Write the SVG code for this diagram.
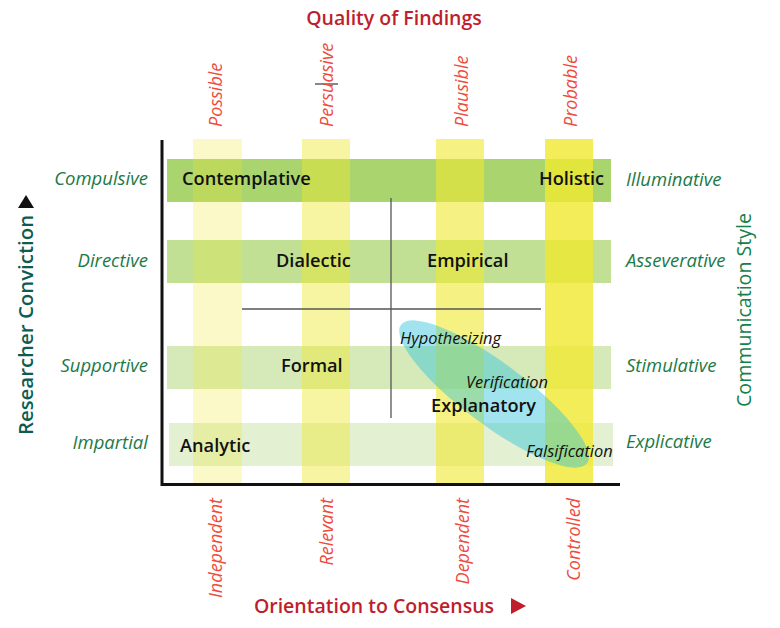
<svg xmlns="http://www.w3.org/2000/svg" width="780" height="628" viewBox="0 0 780 628">
<style>
.node{font-family:"Open Sans","Liberation Sans",sans-serif;font-weight:600;font-size:18.2px;fill:#111}
.proc{font-family:"Open Sans","Liberation Sans",sans-serif;font-style:italic;font-size:16.4px;fill:#111}
.red{font-family:"Open Sans","Liberation Sans",sans-serif;font-style:italic;font-size:18px;fill:#ef4b3c}
.grn{font-family:"Open Sans","Liberation Sans",sans-serif;font-style:italic;font-size:18.5px;fill:#1d7a47}
.title{font-family:"Open Sans","Liberation Sans",sans-serif;font-weight:600;font-size:19.5px;fill:#be1e2d}
.col{fill:#f0e830}
</style>
<rect width="780" height="628" fill="#fff"/>
<g id="bands">
<rect x="167" y="159" width="444" height="43" fill="#a9d46e"/>
<rect x="167" y="240" width="444" height="43" fill="#c1e093"/>
<rect x="167" y="346" width="444" height="43" fill="#d6e9b8"/>
<rect x="169" y="423" width="444" height="43" fill="#e3f0d2"/>
</g>
<g id="columns">
<rect class="col" x="193" y="139" width="49" height="345" opacity="0.27"/>
<rect class="col" x="302" y="139" width="48" height="345" opacity="0.45"/>
<rect class="col" x="436" y="139" width="48" height="345" opacity="0.6"/>
<rect class="col" x="545" y="139" width="48" height="345" opacity="0.8"/>
</g>
<g id="cycle">
<ellipse cx="494" cy="394" rx="116" ry="31" transform="rotate(36.7 494 394)" fill="#2ec4dc" opacity="0.45"/>
</g>
<g id="connectors" fill="none">
<line x1="162" y1="140" x2="162" y2="486" stroke="#111" stroke-width="3"/>
<line x1="161" y1="484.5" x2="620" y2="484.5" stroke="#111" stroke-width="3"/>
<line x1="391" y1="198" x2="391" y2="418" stroke="#555" stroke-width="1.3"/>
<line x1="242" y1="309" x2="541" y2="309" stroke="#555" stroke-width="1.3"/>
<line x1="315" y1="84" x2="338" y2="84" stroke="#111" stroke-width="1"/>
</g>
<g id="contemplative"><text class="node" x="182" y="185">Contemplative</text></g>
<g id="holistic"><text class="node" x="539" y="185">Holistic</text></g>
<g id="dialectic"><text class="node" x="276" y="267">Dialectic</text></g>
<g id="empirical"><text class="node" x="427" y="267">Empirical</text></g>
<g id="formal"><text class="node" x="281" y="372">Formal</text></g>
<g id="explanatory"><text class="node" x="431" y="412">Explanatory</text></g>
<g id="analytic"><text class="node" x="180" y="452">Analytic</text></g>
<g id="hypothesizing"><text class="proc" x="400" y="344">Hypothesizing</text></g>
<g id="verification"><text class="proc" x="466" y="388">Verification</text></g>
<g id="falsification"><text class="proc" x="526" y="457">Falsification</text></g>
<g id="quality">
<text class="title" x="394" y="25" text-anchor="middle" font-size="20">Quality of Findings</text>
<text class="red" transform="translate(222,127) rotate(-90)">Possible</text>
<text class="red" transform="translate(333,127) rotate(-90)">Persuasive</text>
<text class="red" transform="translate(468,127) rotate(-90)">Plausible</text>
<text class="red" transform="translate(577,127) rotate(-90)">Probable</text>
</g>
<g id="consensus">
<text class="red" transform="translate(222,498) rotate(-90)" text-anchor="end">Independent</text>
<text class="red" transform="translate(333,498) rotate(-90)" text-anchor="end">Relevant</text>
<text class="red" transform="translate(469,498) rotate(-90)" text-anchor="end">Dependent</text>
<text class="red" transform="translate(580,498) rotate(-90)" text-anchor="end">Controlled</text>
<text class="title" x="374" y="613" text-anchor="middle">Orientation to Consensus</text>
<polygon points="511,598 511,614 526,606" fill="#be1e2d"/>
</g>
<g id="conviction">
<text class="grn" x="148" y="185" text-anchor="end">Compulsive</text>
<text class="grn" x="148" y="267" text-anchor="end">Directive</text>
<text class="grn" x="148" y="372" text-anchor="end">Supportive</text>
<text class="grn" x="148" y="449" text-anchor="end">Impartial</text>
<text transform="translate(33,325) rotate(-90)" text-anchor="middle" font-family="Open Sans, Liberation Sans, sans-serif" font-weight="600" font-size="20.4" fill="#0d5c52">Researcher Conviction</text>
<polygon points="18,208 34,208 26,195" fill="#111"/>
</g>
<g id="style">
<text class="grn" x="626" y="186">Illuminative</text>
<text class="grn" x="626" y="267">Asseverative</text>
<text class="grn" x="626" y="372">Stimulative</text>
<text class="grn" x="626" y="448">Explicative</text>
<text transform="translate(751,310) rotate(-90)" text-anchor="middle" font-family="Open Sans, Liberation Sans, sans-serif" font-weight="500" font-size="19.6" fill="#14804a">Communication Style</text>
</g>
</svg>
